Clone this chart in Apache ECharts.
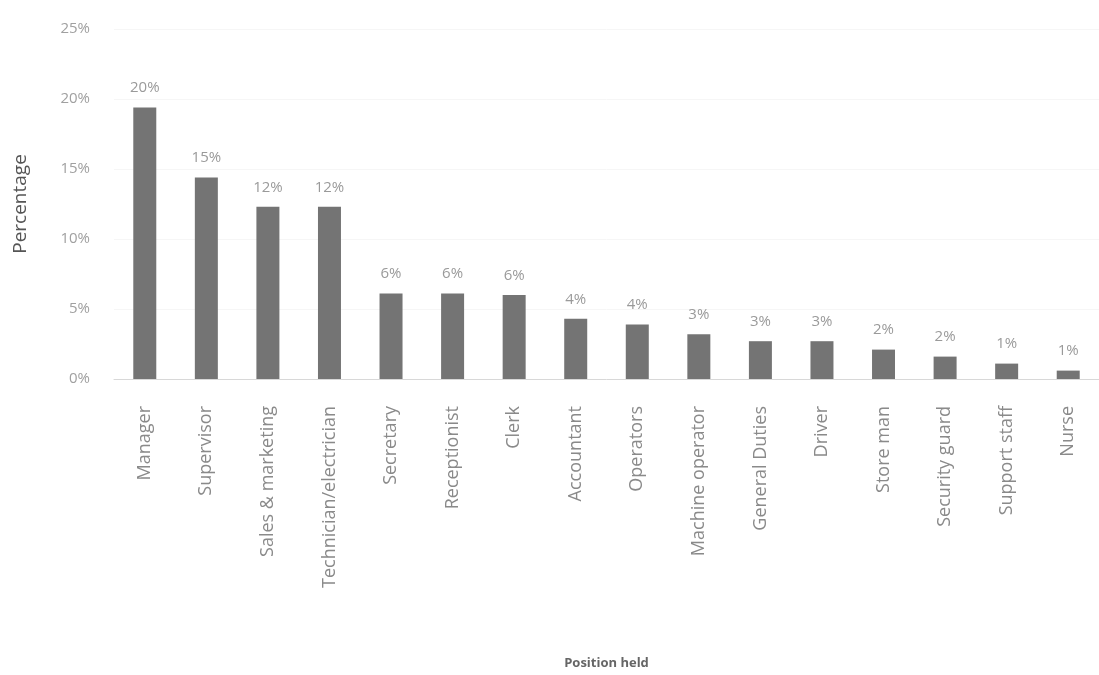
<!DOCTYPE html>
<html>
<head>
<meta charset="utf-8">
<script src="https://cdn.jsdelivr.net/npm/echarts@6/dist/echarts.min.js"></script>
<style>
  html, body { margin: 0; padding: 0; background: #fff; }
  #chart { width: 1099px; height: 675px; }
</style>
</head>
<body>
<div id="chart"></div>
<script>
// positions held
const positions = ['Manager', 'Supervisor', 'Sales & marketing', 'Technician/electrician', 'Secretary',
  'Receptionist', 'Clerk', 'Accountant', 'Operators', 'Machine operator', 'General Duties', 'Driver',
  'Store man', 'Security guard', 'Support staff', 'Nurse']
const percent = [19.4, 14.4, 12.3, 12.3, 6.1, 6.1, 6.0, 4.3, 3.9, 3.2, 2.7, 2.7, 2.1, 1.6, 1.1, 0.6]
const barLabels = ['20%', '15%', '12%', '12%', '6%', '6%', '6%', '4%', '4%', '3%', '3%', '3%', '2%', '2%', '1%', '1%']

const font = 'Open Sans'
const chart = echarts.init(document.getElementById('chart'))

chart.setOption({
  animation: false,
  grid: {
    left: 114,
    top: 29,
    width: 993,
    bottom: 292
  },
  xAxis: {
    type: 'category',
    data: positions,
    name: 'Position held',
    nameLocation: 'middle',
    nameGap: 278,
    nameTextStyle: { color: '#666', fontSize: 13, fontWeight: 'bold', fontFamily: font },
    axisLine: { lineStyle: { color: '#d8d8d8' } },
    axisTick: { show: false },
    axisLabel: {
      rotate: 90,
      margin: 27,
      interval: 0,
      color: '#8a8a8a',
      fontSize: 18,
      fontFamily: font
    }
  },
  yAxis: {
    type: 'value',
    min: 0,
    max: 25,
    interval: 5,
    name: 'Percentage',
    nameLocation: 'middle',
    nameGap: 84,
    nameRotate: 90,
    nameTextStyle: { color: '#555', fontSize: 19, fontFamily: font },
    axisLine: { show: false },
    axisTick: { show: false },
    splitLine: { lineStyle: { color: '#f6f6f6' } },
    axisLabel: {
      formatter: '{value}%',
      margin: 24,
      color: '#a0a0a0',
      fontSize: 15,
      fontFamily: font
    }
  },
  series: [{
    type: 'bar',
    data: percent,
    barWidth: 23,
    itemStyle: { color: '#747474' },
    label: {
      show: true,
      position: 'top',
      distance: 12,
      color: '#9a9a9a',
      fontSize: 15,
      fontFamily: font,
      formatter: p => barLabels[p.dataIndex]
    }
  }]
})
</script>
</body>
</html>
